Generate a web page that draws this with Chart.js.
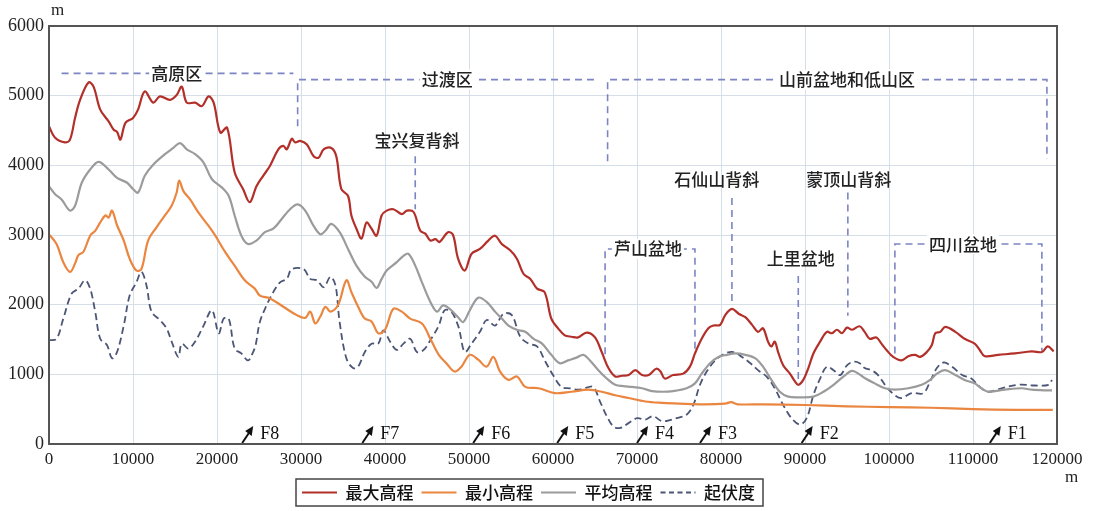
<!DOCTYPE html>
<html>
<head>
<meta charset="utf-8">
<script src="https://cdn.jsdelivr.net/npm/chart.js@4.4.1/dist/chart.umd.min.js"></script>
<style>
  html, body { margin: 0; padding: 0; background: #fff; }
</style>
</head>
<body>
<canvas id="profile" width="1098" height="511"></canvas>
<script>
// 剖面距离 (m) -> 高程 / 起伏度 (m)
const maxElev = [[0,4560],[700,4400],[1900,4330],[2500,4370],[3100,4680],[3700,4940],[4700,5190],[5300,5130],[6100,4800],[7100,4630],[7700,4510],[8100,4480],[8500,4370],[9100,4610],[10000,4680],[10600,4800],[11400,5060],[12400,4900],[13200,4990],[14400,4940],[15200,5010],[15800,5130],[16400,4900],[17400,4900],[18200,4850],[19000,4990],[19600,4900],[20400,4470],[21200,4540],[22100,3900],[23100,3660],[23900,3470],[24700,3700],[25500,3850],[26300,3990],[27300,4230],[27900,4280],[28300,4230],[28900,4380],[29300,4330],[29900,4350],[30700,4300],[31500,4130],[32100,4110],[32700,4230],[33600,4250],[34200,4130],[34800,3660],[35600,3560],[36000,3280],[36600,3090],[37200,2950],[37800,3180],[38400,3090],[39000,2990],[39600,3280],[40200,3350],[41000,3370],[42000,3300],[42600,3350],[43400,3330],[44200,3060],[44800,3020],[45400,2920],[46000,2940],[46500,2900],[47500,3040],[48100,3000],[48700,2660],[49500,2490],[50300,2730],[51300,2800],[52300,2920],[53100,2990],[53900,2870],[54900,2780],[55700,2660],[56500,2440],[57300,2370],[58100,2230],[59000,2180],[59800,1800],[60600,1660],[61400,1560],[62200,1540],[63000,1530],[64000,1600],[65000,1530],[65800,1320],[66600,1090],[67400,970],[68200,980],[69000,990],[69800,1060],[70600,990],[71400,990],[72300,1080],[72800,1040],[73300,940],[74300,990],[75500,1010],[76300,1110],[76900,1300],[77700,1510],[78500,1660],[79100,1700],[79900,1710],[80500,1850],[81300,1940],[82100,1870],[82900,1820],[83700,1710],[84400,1610],[85000,1660],[85600,1470],[86000,1400],[86400,1470],[86800,1320],[87400,1130],[88200,1010],[88800,900],[89200,850],[89800,920],[90400,1090],[91000,1300],[91800,1470],[92600,1610],[93200,1590],[93800,1640],[94400,1590],[95000,1670],[95600,1640],[96500,1690],[97100,1610],[97700,1510],[98500,1530],[99100,1440],[99700,1350],[100500,1250],[101500,1200],[102300,1260],[103100,1280],[103700,1250],[104500,1320],[105100,1420],[105500,1590],[106100,1610],[106700,1680],[107900,1610],[109000,1510],[110200,1440],[110800,1350],[111400,1260],[113000,1280],[115000,1300],[117000,1330],[118200,1320],[118900,1400],[119600,1330]];

const minElev = [[0,3010],[900,2870],[1700,2610],[2500,2470],[3100,2590],[3500,2710],[4100,2760],[4900,2990],[5500,3060],[6100,3180],[6700,3280],[7100,3250],[7500,3350],[8100,3140],[8900,2920],[9600,2660],[10400,2490],[11000,2510],[11800,2920],[12800,3110],[13800,3280],[14600,3420],[15200,3610],[15500,3780],[16000,3630],[16800,3510],[17800,3320],[19000,3130],[19800,2990],[21000,2750],[22100,2560],[23300,2350],[24500,2230],[25100,2130],[26300,2090],[27900,1970],[29500,1850],[30500,1810],[31100,1900],[31700,1730],[32300,1830],[32900,1970],[33500,1900],[34400,1990],[35400,2350],[36000,2180],[36800,1970],[37600,1800],[38400,1760],[39200,1590],[40000,1640],[41000,1940],[42000,1900],[43000,1800],[44400,1730],[45400,1510],[46400,1280],[47300,1160],[48300,1040],[49100,1110],[50100,1280],[51100,1210],[52100,1110],[52900,1250],[53700,1040],[54700,920],[55700,970],[56700,820],[58300,800],[60200,730],[62200,750],[64200,780],[65800,750],[67400,700],[69000,660],[71000,610],[73100,590],[75000,580],[78000,570],[80500,580],[81200,600],[82000,570],[85000,570],[90000,560],[95000,540],[100000,530],[105000,520],[110000,500],[115000,490],[119500,490]];

const meanElev = [[0,3700],[700,3590],[1500,3510],[2500,3350],[3100,3420],[3900,3750],[4900,3940],[5900,4050],[7100,3940],[8100,3820],[9300,3750],[10000,3660],[10600,3610],[11400,3850],[12400,4010],[13800,4160],[14800,4250],[15600,4320],[16400,4230],[17400,4160],[18400,4040],[19400,3800],[20600,3680],[21400,3560],[22100,3280],[22900,2990],[23700,2870],[24700,2920],[25700,3040],[26700,3090],[27700,3230],[28700,3370],[29600,3440],[30500,3350],[31500,3130],[32300,3010],[32900,3060],[33600,3160],[34600,3040],[35600,2800],[36600,2560],[37600,2400],[38400,2330],[39000,2240],[39600,2370],[40200,2490],[41400,2610],[42200,2700],[42800,2730],[43600,2560],[44400,2320],[45400,2040],[46200,1900],[46900,1990],[47700,1940],[48700,1820],[49300,1750],[50100,1920],[51100,2100],[52100,2040],[53100,1900],[53900,1800],[54700,1700],[55700,1640],[56700,1610],[57700,1510],[58700,1440],[59800,1280],[60800,1160],[61800,1200],[62800,1240],[63600,1280],[64400,1200],[65400,1060],[66400,940],[67400,850],[68400,830],[69400,820],[70600,800],[71800,760],[73100,750],[74300,760],[75900,800],[76900,870],[77700,1010],[78700,1160],[79700,1250],[80700,1280],[81700,1300],[82900,1280],[84100,1230],[85000,1110],[86000,920],[87000,750],[88000,680],[89400,670],[91000,680],[92200,750],[93400,850],[94600,970],[95600,1050],[96600,990],[97200,940],[98300,870],[99500,800],[100700,780],[102300,800],[103900,850],[104900,920],[105700,1010],[106700,1060],[107900,990],[109000,920],[110200,870],[111000,800],[111800,750],[113800,780],[115800,800],[117000,780],[118600,770],[119400,770]];

const relief = [[0,1490],[900,1510],[1700,1800],[2700,2160],[3500,2230],[4300,2350],[4900,2230],[5500,1900],[6100,1510],[6900,1420],[7500,1230],[8100,1320],[8900,1700],[9600,2130],[10400,2320],[11000,2470],[11600,2280],[12200,1900],[13200,1780],[14000,1660],[14600,1470],[15400,1250],[15800,1440],[16600,1370],[17400,1470],[18400,1700],[19400,1920],[20200,1590],[20800,1800],[21400,1800],[22100,1370],[22900,1300],[23700,1200],[24300,1320],[24600,1420],[25100,1750],[25900,1990],[26700,2180],[27500,2320],[28300,2370],[28900,2510],[30300,2510],[31100,2370],[31900,2350],[32700,2250],[33500,2400],[34100,2280],[34600,1750],[35400,1230],[36200,1090],[36800,1110],[37600,1320],[38400,1440],[39200,1440],[39800,1630],[40600,1470],[41400,1350],[42200,1440],[43000,1510],[43800,1320],[44600,1350],[45600,1530],[46400,1700],[47100,1920],[47900,1900],[48700,1700],[48900,1610],[49500,1320],[50300,1440],[51300,1610],[52100,1780],[53100,1700],[54100,1870],[55100,1850],[56100,1540],[57100,1440],[58100,1400],[59100,1180],[60000,990],[61000,820],[62000,800],[63000,780],[64000,810],[64800,820],[65600,610],[66400,400],[67200,250],[68000,230],[69000,300],[70000,370],[71000,350],[71900,400],[72900,330],[73500,330],[74700,370],[75900,420],[76700,560],[77500,850],[78300,1040],[79300,1200],[80500,1300],[81500,1320],[82500,1250],[83500,1160],[84400,1060],[85400,970],[86400,800],[87400,560],[88400,370],[89400,280],[90200,370],[91000,700],[91800,940],[92600,1110],[93400,1060],[94200,990],[95000,1130],[95800,1180],[96500,1160],[97100,1090],[97900,1060],[98700,990],[99700,820],[100700,700],[101500,660],[102700,730],[104100,730],[104900,900],[105700,1090],[106500,1170],[107500,1110],[108700,990],[109800,940],[110800,820],[111800,750],[113400,800],[115400,850],[117400,840],[119000,850],[119400,920]];

const seriesNames = ['最大高程', '最小高程', '平均高程', '起伏度'];
const yTicks = [0, 1000, 2000, 3000, 4000, 5000, 6000];
const xTicks = [0, 10000, 20000, 30000, 40000, 50000, 60000, 70000, 80000, 90000, 100000, 110000, 120000];
const faultNames = ['F8', 'F7', 'F6', 'F5', 'F4', 'F3', 'F2', 'F1'];
const faultPos = [23000, 37300, 50500, 60500, 70000, 77500, 89600, 112000];

// 分区括线 (距离, 高程 均为数据坐标)
const zones = [
  { name: '高原区', y: 5320, from: 1500, to: 29100, labelX: 15200 },
  { name: '过渡区', y: 5230, from: 29600, to: 65000, labelX: 47400, dropFrom: 4560 },
  { name: '山前盆地和低山区', y: 5230, from: 66500, to: 118800, labelX: 95000, dropFrom: 4060, dropTo: 4090 }
];
const basins = [
  { name: '芦山盆地', y: 2800, from: 66200, to: 76900, labelX: 71300, dropFrom: 1290, dropTo: 1300 },
  { name: '四川盆地', y: 2870, from: 100700, to: 118200, labelX: 108800, dropFrom: 1300, dropTo: 1340 }
];
const structures = [
  { name: '宝兴复背斜', x: 43600, top: 4130, bottom: 3370, labelX: 43800, labelY: 4360 },
  { name: '石仙山背斜', x: 81300, top: 3530, bottom: 2010, labelX: 79500, labelY: 3800 },
  { name: '蒙顶山背斜', x: 95100, top: 3610, bottom: 1840, labelX: 95200, labelY: 3800 },
  { name: '上里盆地', x: 89200, top: 2410, bottom: 870, labelX: 89500, labelY: 2660 }
];

const toPoints = arr => arr.map(p => ({ x: p[0], y: p[1] }));

const cjkFont = '500 17px "Noto Sans CJK SC"';
const serifFont = '"Liberation Serif", "Times New Roman", serif';
const bracketColor = '#7c84c4';

function labelWithBg(ctx, text, cx, cy) {
  const w = ctx.measureText(text).width;
  ctx.fillStyle = '#fff';
  ctx.fillRect(cx - w / 2 - 2, cy - 10, w + 4, 20);
  ctx.fillStyle = '#222';
  ctx.fillText(text, cx, cy);
}

const decor = {
  id: 'decor',
  beforeDatasetsDraw(chart) {
    const { ctx } = chart;
    const X = v => chart.scales.x.getPixelForValue(v);
    const Y = v => chart.scales.y.getPixelForValue(v);
    ctx.save();
    ctx.strokeStyle = bracketColor;
    ctx.lineWidth = 1.6;
    ctx.setLineDash([7, 5]);
    for (const b of zones.concat(basins)) {
      ctx.beginPath();
      if (b.dropFrom !== undefined) {
        ctx.moveTo(X(b.from), Y(b.dropFrom));
        ctx.lineTo(X(b.from), Y(b.y));
      } else {
        ctx.moveTo(X(b.from), Y(b.y));
      }
      ctx.lineTo(X(b.to), Y(b.y));
      if (b.dropTo !== undefined) ctx.lineTo(X(b.to), Y(b.dropTo));
      ctx.stroke();
    }
    for (const s of structures) {
      ctx.beginPath();
      ctx.moveTo(X(s.x), Y(s.top));
      ctx.lineTo(X(s.x), Y(s.bottom));
      ctx.stroke();
    }
    ctx.setLineDash([]);
    ctx.font = cjkFont;
    ctx.textAlign = 'center';
    ctx.textBaseline = 'middle';
    for (const b of zones.concat(basins)) labelWithBg(ctx, b.name, X(b.labelX), Y(b.y));
    ctx.fillStyle = '#222';
    for (const s of structures) ctx.fillText(s.name, X(s.labelX), Y(s.labelY));

    // 断裂位置箭头
    ctx.fillStyle = '#111';
    ctx.strokeStyle = '#111';
    ctx.lineWidth = 2;
    ctx.font = '18px ' + serifFont;
    ctx.textAlign = 'left';
    faultNames.forEach((name, i) => {
      const x0 = X(faultPos[i]);
      const y0 = chart.chartArea.bottom - 1;
      const x1 = x0 + 11, y1 = y0 - 17;
      ctx.beginPath();
      ctx.moveTo(x0, y0);
      ctx.lineTo(x1 - 3, y1 + 5);
      ctx.stroke();
      ctx.beginPath();
      ctx.moveTo(x1, y1);
      ctx.lineTo(x1 - 8, y1 + 5);
      ctx.lineTo(x1 - 1.5, y1 + 10);
      ctx.closePath();
      ctx.fill();
      ctx.fillText(name, x1 + 7, y0 - 9);
    });
    ctx.restore();
  },
  afterDraw(chart) {
    const { ctx, chartArea: a } = chart;
    ctx.save();
    ctx.strokeStyle = '#555';
    ctx.lineWidth = 2;
    ctx.strokeRect(a.left, a.top, a.right - a.left, a.bottom - a.top);

    ctx.fillStyle = '#222';
    ctx.font = '17px ' + serifFont;
    ctx.textAlign = 'left';
    ctx.textBaseline = 'middle';
    ctx.fillText('m', a.left + 2, 11);
    ctx.fillText('m', a.right + 8, 478);

    const boxes = chart.legend.legendHitBoxes;
    if (boxes && boxes.length) {
      const left = Math.min(...boxes.map(b => b.left)) - 6;
      const right = Math.max(...boxes.map(b => b.left + b.width)) + 8;
      const top = boxes[0].top - 5;
      const h = boxes[0].height + 10;
      ctx.strokeStyle = '#444';
      ctx.lineWidth = 1.5;
      ctx.strokeRect(left, top, right - left, h);
    }
    ctx.restore();
  }
};

const lineBase = { pointRadius: 0, tension: 0.35, fill: false, borderWidth: 2.2 };

new Chart(document.getElementById('profile'), {
  type: 'line',
  data: {
    datasets: [
      Object.assign({ label: seriesNames[0], data: toPoints(maxElev), borderColor: '#b3302a', backgroundColor: '#b3302a' }, lineBase),
      Object.assign({ label: seriesNames[1], data: toPoints(minElev), borderColor: '#ea8640', backgroundColor: '#ea8640' }, lineBase),
      Object.assign({ label: seriesNames[2], data: toPoints(meanElev), borderColor: '#9b9b9b', backgroundColor: '#9b9b9b' }, lineBase),
      Object.assign({ label: seriesNames[3], data: toPoints(relief), borderColor: '#4b5677', backgroundColor: '#4b5677', borderDash: [7, 4] }, lineBase, { borderWidth: 1.8 })
    ]
  },
  options: {
    responsive: false,
    animation: false,
    layout: { padding: { top: 26, right: 41, left: 0, bottom: 0 } },
    plugins: {
      tooltip: { enabled: false },
      legend: {
        position: 'bottom',
        labels: {
          usePointStyle: true,
          pointStyle: 'line',
          pointStyleWidth: 35,
          padding: 8,
          color: '#111',
          font: { family: 'Noto Sans CJK SC', size: 17, weight: '500' },
          // 图例样式取自线条本身, 起伏度用短虚线
          generateLabels: chart => Chart.defaults.plugins.legend.labels.generateLabels(chart).map(item => {
            const ds = chart.data.datasets[item.datasetIndex];
            item.lineWidth = 2;
            item.strokeStyle = ds.borderColor;
            item.lineDash = ds.borderDash ? [5, 3.5] : [];
            return item;
          })
        }
      }
    },
    scales: {
      x: {
        type: 'linear',
        min: 0,
        max: 120000,
        afterBuildTicks: s => { s.ticks = xTicks.map(v => ({ value: v })); },
        afterFit: s => { s.height = 32; },
        grid: { color: '#d6dee7', drawTicks: false },
        border: { display: false },
        ticks: {
          padding: 5,
          maxRotation: 0,
          autoSkip: false,
          color: '#222',
          font: { family: serifFont, size: 17 },
          callback: v => String(v)
        }
      },
      y: {
        min: 0,
        max: 6000,
        afterBuildTicks: s => { s.ticks = yTicks.map(v => ({ value: v })); },
        afterFit: s => { s.width = 49; },
        grid: { color: '#d6dee7', drawTicks: false },
        border: { display: false },
        ticks: {
          padding: 5,
          color: '#222',
          font: { family: serifFont, size: 18 },
          callback: v => String(v)
        }
      }
    }
  },
  plugins: [decor]
});
</script>
</body>
</html>
